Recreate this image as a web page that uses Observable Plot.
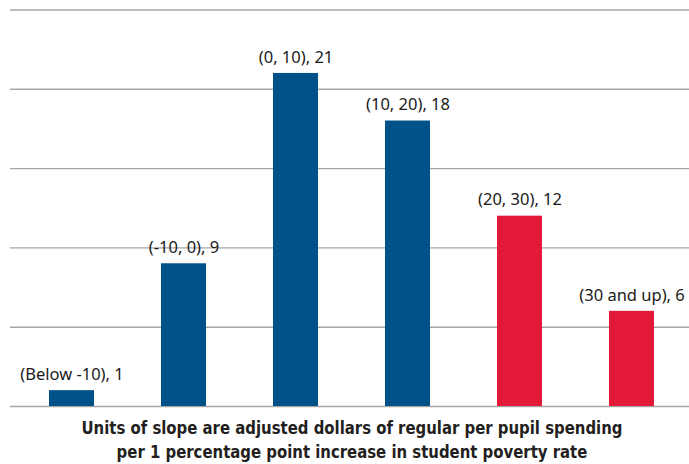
<!DOCTYPE html>
<html>
<head>
<meta charset="utf-8">
<script src="https://cdn.jsdelivr.net/npm/d3@7"></script>
<script src="https://cdn.jsdelivr.net/npm/@observablehq/plot@0.6"></script>
<style>
  body { margin: 0; background: #fff; }
  #chart svg { display: block; }
  .caption {
    width: 675px;
    padding-left: 14px;
    text-align: center;
    margin-top: 8px;
  }
  .caption span {
    display: inline-block;
    transform: scaleX(0.92);
    transform-origin: center;
    font-family: "Liberation Sans Narrow", "DejaVu Sans Condensed", "Liberation Sans", sans-serif;
    font-stretch: condensed;
    font-weight: bold;
    font-size: 18px;
    line-height: 24px;
    color: #231f20;
    white-space: nowrap;
  }
</style>
</head>
<body>
<div id="chart"></div>
<div class="caption"><span>Units of slope are adjusted dollars of regular per pupil spending<br>per 1 percentage point increase in student poverty rate</span></div>
<script>
const categories = ["(Below -10)", "(-10, 0)", "(0, 10)", "(10, 20)", "(20, 30)", "(30 and up)"];
const counts = [1, 9, 21, 18, 12, 6];
const groups = ["low", "low", "low", "low", "high", "high"];
const yTicks = [0, 5, 10, 15, 20, 25];

const data = categories.map((c, i) => ({category: c, count: counts[i], group: groups[i]}));

const chart = Plot.plot({
  width: 689,
  height: 408,
  marginLeft: 10,
  marginRight: 0,
  marginTop: 9.5,
  marginBottom: 2,
  style: {fontFamily: "'Noto Sans', 'Liberation Sans', sans-serif", fontSize: "16.5px", color: "#1a1a1a", background: "#fff"},
  x: {domain: categories, range: [10, 693], paddingInner: 0.6, paddingOuter: 0.338, axis: null},
  y: {domain: [0, 25], axis: null},
  color: {domain: ["low", "high"], range: ["#02528A", "#E31A37"]},
  marks: [
    Plot.ruleY(yTicks, {stroke: "#a6a6a6", strokeWidth: 1.4}),
    Plot.barY(data, {x: "category", y: "count", fill: "group"}),
    Plot.text(data, {
      x: "category",
      y: "count",
      text: d => `${d.category}, ${d.count}`,
      dy: -16,
      fill: "#1a1a1a"
    })
  ]
});
document.getElementById("chart").appendChild(chart);
</script>
</body>
</html>
